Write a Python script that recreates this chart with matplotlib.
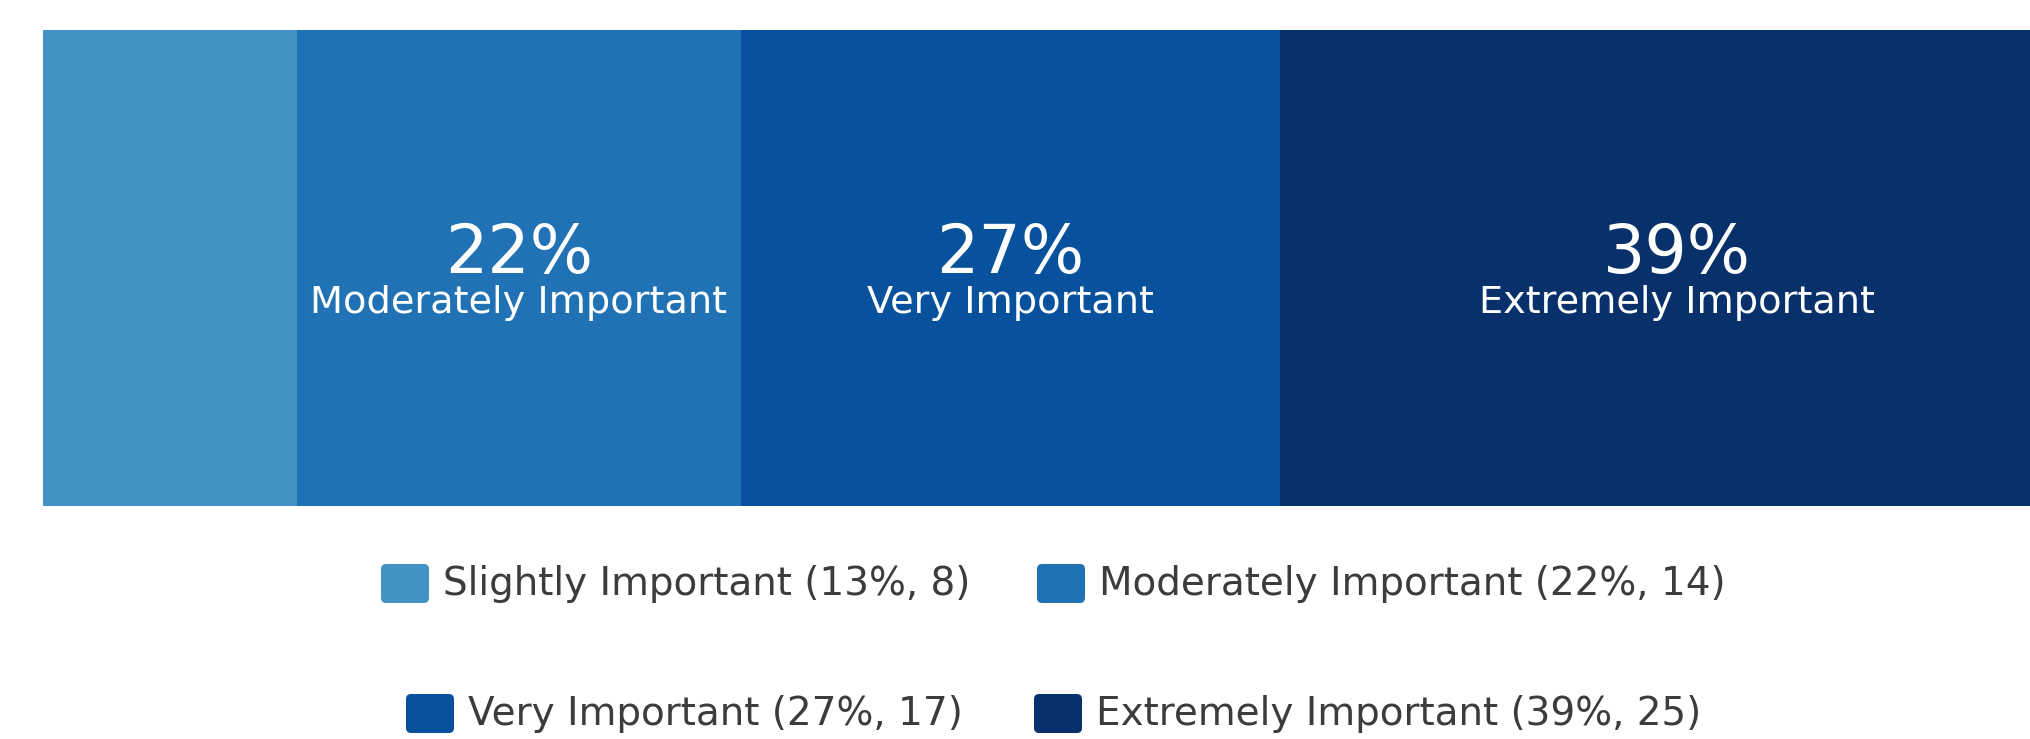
import numpy as np
import matplotlib
matplotlib.use('Agg')
import matplotlib.pyplot as plt
from matplotlib.patches import FancyBboxPatch

# survey answers
categories = ['Slightly Important', 'Moderately Important', 'Very Important', 'Extremely Important']
counts = [8, 14, 17, 25]
percents = [13, 22, 27, 39]
colors = ['#4292c6', '#2171b5', '#08519c', '#08306b']

W, H = 2031, 739
fig = plt.figure(figsize=(W / 100, H / 100), dpi=100)

# bar runs past the right edge of the picture, like the original screenshot
ax = fig.add_axes([43 / W, 1 - 506 / H, 2030 / W, 476 / H])
lefts = np.cumsum([0] + counts[:-1])
ax.barh(0, counts, left=lefts, height=1, color=colors, edgecolor='none')
ax.set_xlim(0, sum(counts))
ax.set_ylim(-0.5, 0.5)
ax.axis('off')

for i in range(len(counts)):
    if percents[i] < 15:  # too narrow for a label
        continue
    xc = lefts[i] + counts[i] / 2
    ax.text(xc, -0.011, '%d%%' % percents[i], color='white', fontsize=48,
            family='DejaVu Sans', ha='center', va='baseline')
    ax.text(xc, -0.095, categories[i], color='white', fontsize=27.5,
            family='DejaVu Sans', ha='center', va='baseline')

# legend, two centred rows: square left edge, text baseline (px)
leg_pos = [(381, 595), (1037, 595), (406, 725), (1034, 725)]
sq_w, sq_h = 48, 39
for i in range(len(categories)):
    x0, yb = leg_pos[i]
    p = FancyBboxPatch((x0 / W, 1 - (yb + 8) / H), sq_w / W, sq_h / H,
                       boxstyle='round,pad=0,rounding_size=0.0025',
                       transform=fig.transFigure, facecolor=colors[i],
                       edgecolor='none', mutation_aspect=W / H)
    fig.patches.append(p)
    fig.text((x0 + sq_w + 14) / W, 1 - yb / H,
             '%s (%d%%, %d)' % (categories[i], percents[i], counts[i]),
             fontsize=28, family='DejaVu Sans', color='#3c3c3c', va='baseline')

fig.savefig('out.png', dpi=100)
